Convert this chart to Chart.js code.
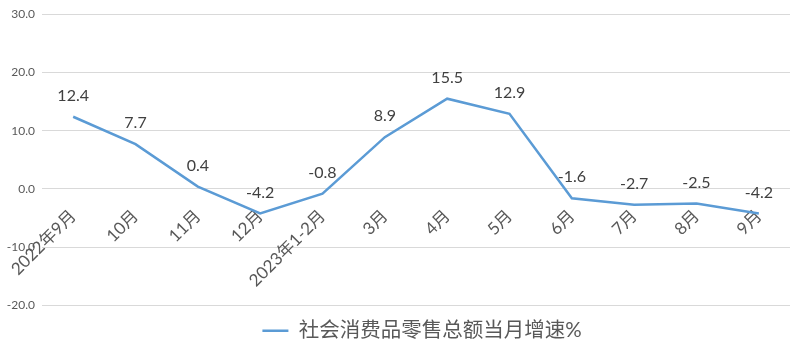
<!DOCTYPE html>
<html>
<head>
<meta charset="utf-8">
<script src="https://cdn.jsdelivr.net/npm/chart.js@4"></script>
<style>
  body { margin: 0; background: #fff; }
  #wrap { width: 800px; height: 353px; }
</style>
</head>
<body>
<div id="wrap"><canvas id="growth" width="800" height="353"></canvas></div>
<script>
const months = ['2022年9月', '10月', '11月', '12月', '2023年1-2月', '3月', '4月', '5月', '6月', '7月', '8月', '9月'];
const growth = [12.4, 7.7, 0.4, -4.2, -0.8, 8.9, 15.5, 12.9, -1.6, -2.7, -2.5, -4.2];
const seriesName = '社会消费品零售总额当月增速%';
const yTicks = { min: -20, max: 30, step: 10 };

const lineBlue = '#5B9BD5';
const fontFamily = 'Lato, "Noto Sans CJK SC", sans-serif';

// value labels above each point (no datalabels plugin available)
const valueLabels = {
  id: 'valueLabels',
  afterDatasetsDraw(chart) {
    const ctx = chart.ctx;
    const meta = chart.getDatasetMeta(0);
    ctx.save();
    ctx.font = '16px ' + fontFamily;
    ctx.fillStyle = '#404040';
    ctx.textAlign = 'center';
    ctx.textBaseline = 'middle';
    meta.data.forEach((pt, i) => {
      ctx.fillText(chart.data.datasets[0].data[i].toFixed(1), pt.x, pt.y - 21);
    });
    ctx.restore();
  }
};

// excel puts the legend a bit right of centre
const legendShift = {
  id: 'legendShift',
  afterLayout(chart) {
    chart.legend.left += 54;
  }
};

const data = {
  labels: months,
  datasets: [{
    label: seriesName,
    data: growth,
    borderColor: lineBlue,
    backgroundColor: lineBlue,
    borderWidth: 2.5,
    pointRadius: 0,
    tension: 0
  }]
};

const config = {
  type: 'line',
  data: data,
  plugins: [valueLabels, legendShift],
  options: {
    responsive: false,
    animation: false,
    layout: { padding: { top: 5, right: 10, bottom: 2, left: 0 } },
    plugins: {
      tooltip: { enabled: false },
      legend: {
        position: 'bottom',
        labels: {
          boxWidth: 26,
          boxHeight: 0,
          padding: 15,
          color: '#595959',
          font: { family: fontFamily, size: 20.5 }
        }
      }
    },
    scales: {
      x: {
        position: { y: 0 },
        offset: true,
        grid: { display: false },
        border: { display: false },
        ticks: {
          autoSkip: false,
          minRotation: 45,
          maxRotation: 45,
          padding: 9,
          color: '#595959',
          font: { family: fontFamily, size: 17 }
        }
      },
      y: {
        min: yTicks.min,
        max: yTicks.max,
        afterFit: s => { s.width = 42; },
        grid: { color: '#d9d9d9', drawTicks: false },
        border: { display: false },
        ticks: {
          stepSize: yTicks.step,
          padding: 7,
          color: '#595959',
          font: { family: fontFamily, size: 12 },
          callback: v => v.toFixed(1)
        }
      }
    }
  }
};

const growthChart = new Chart(document.getElementById('growth'), config);
</script>
</body>
</html>
